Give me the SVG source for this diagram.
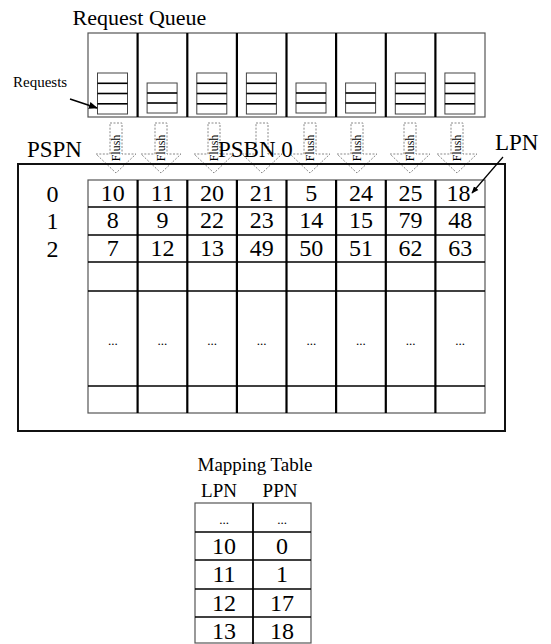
<svg xmlns="http://www.w3.org/2000/svg" width="551" height="644" viewBox="0 0 551 644">
<defs>
<style>
text{font-family:"Liberation Serif","Times New Roman",serif;fill:#000}
.lbl{font-size:23px}
.num{font-size:24px;text-anchor:middle}
.dots{font-size:13px;text-anchor:middle}
.fl{font-size:12px;text-anchor:middle}
.qbox{fill:none;stroke:#555;stroke-width:1.2}
.stk{fill:#fff;stroke:#444;stroke-width:1}
.sl{stroke:#000;stroke-width:1.6}
.div{stroke:#000;stroke-width:2.2}
.arr{fill:#fff;stroke:#888;stroke-width:1;stroke-dasharray:2 1.5}
.grid{fill:none;stroke:#555;stroke-width:1.2}
.hl{stroke:#000;stroke-width:1.6}
</style>
<marker id="ah" viewBox="0 0 10 10" refX="9" refY="5" markerWidth="6" markerHeight="6" orient="auto">
<path d="M0,1 L10,5 L0,9 Z" fill="#000"/>
</marker>
</defs>
<rect width="551" height="644" fill="#fff"/>

<g id="request-queue">
<text x="139.5" y="25" font-size="22" text-anchor="middle">Request Queue</text>
<rect class="qbox" x="88" y="33" width="397" height="84"/>
<line class="div" x1="137.6" y1="33" x2="137.6" y2="117"/>
<line class="div" x1="187.3" y1="33" x2="187.3" y2="117"/>
<line class="div" x1="236.9" y1="33" x2="236.9" y2="117"/>
<line class="div" x1="286.5" y1="33" x2="286.5" y2="117"/>
<line class="div" x1="336.1" y1="33" x2="336.1" y2="117"/>
<line class="div" x1="385.8" y1="33" x2="385.8" y2="117"/>
<line class="div" x1="435.4" y1="33" x2="435.4" y2="117"/>
<g id="stack1"><rect class="stk" x="97.5" y="73" width="30" height="41"/><line class="sl" x1="97.5" y1="83.3" x2="127.5" y2="83.3"/><line class="sl" x1="97.5" y1="93.5" x2="127.5" y2="93.5"/><line class="sl" x1="97.5" y1="103.8" x2="127.5" y2="103.8"/></g>
<g id="stack2"><rect class="stk" x="147.1" y="83" width="30" height="30"/><line class="sl" x1="147.1" y1="93" x2="177.1" y2="93"/><line class="sl" x1="147.1" y1="103" x2="177.1" y2="103"/></g>
<g id="stack3"><rect class="stk" x="196.8" y="73" width="30" height="41"/><line class="sl" x1="196.8" y1="83.3" x2="226.8" y2="83.3"/><line class="sl" x1="196.8" y1="93.5" x2="226.8" y2="93.5"/><line class="sl" x1="196.8" y1="103.8" x2="226.8" y2="103.8"/></g>
<g id="stack4"><rect class="stk" x="246.4" y="73" width="30" height="41"/><line class="sl" x1="246.4" y1="83.3" x2="276.4" y2="83.3"/><line class="sl" x1="246.4" y1="93.5" x2="276.4" y2="93.5"/><line class="sl" x1="246.4" y1="103.8" x2="276.4" y2="103.8"/></g>
<g id="stack5"><rect class="stk" x="296" y="83" width="30" height="30"/><line class="sl" x1="296" y1="93" x2="326" y2="93"/><line class="sl" x1="296" y1="103" x2="326" y2="103"/></g>
<g id="stack6"><rect class="stk" x="345.6" y="83" width="30" height="30"/><line class="sl" x1="345.6" y1="93" x2="375.6" y2="93"/><line class="sl" x1="345.6" y1="103" x2="375.6" y2="103"/></g>
<g id="stack7"><rect class="stk" x="395.3" y="73" width="30" height="41"/><line class="sl" x1="395.3" y1="83.3" x2="425.3" y2="83.3"/><line class="sl" x1="395.3" y1="93.5" x2="425.3" y2="93.5"/><line class="sl" x1="395.3" y1="103.8" x2="425.3" y2="103.8"/></g>
<g id="stack8"><rect class="stk" x="444.9" y="73" width="30" height="41"/><line class="sl" x1="444.9" y1="83.3" x2="474.9" y2="83.3"/><line class="sl" x1="444.9" y1="93.5" x2="474.9" y2="93.5"/><line class="sl" x1="444.9" y1="103.8" x2="474.9" y2="103.8"/></g>
</g>

<g id="requests-label">
<text x="13" y="87" font-size="15">Requests</text>
</g>

<g id="flush-arrows">
<path class="arr" d="M110,123 H122 V154 H136 L116,173 L96,154 H110 Z"/>
<text class="fl" transform="translate(120,148) rotate(-90)">Flush</text>
<path class="arr" d="M155,123 H167 V154 H181 L161,173 L141,154 H155 Z"/>
<text class="fl" transform="translate(165,148) rotate(-90)">Flush</text>
<path class="arr" d="M208,123 H220 V154 H234 L214,173 L194,154 H208 Z"/>
<text class="fl" transform="translate(218,148) rotate(-90)">Flush</text>
<path class="arr" d="M256,123 H268 V154 H282 L262,173 L242,154 H256 Z"/>
<path class="arr" d="M304,123 H316 V154 H330 L310,173 L290,154 H304 Z"/>
<text class="fl" transform="translate(314,148) rotate(-90)">Flush</text>
<path class="arr" d="M351,123 H363 V154 H377 L357,173 L337,154 H351 Z"/>
<text class="fl" transform="translate(361,148) rotate(-90)">Flush</text>
<path class="arr" d="M404,123 H416 V154 H430 L410,173 L390,154 H404 Z"/>
<text class="fl" transform="translate(414,148) rotate(-90)">Flush</text>
<path class="arr" d="M451,123 H463 V154 H477 L457,173 L437,154 H451 Z"/>
<text class="fl" transform="translate(461,148) rotate(-90)">Flush</text>
</g>

<g id="block">
<rect x="18" y="164" width="487" height="267" fill="none" stroke="#111" stroke-width="2"/>
<text class="lbl" x="27" y="157">PSPN</text>
<text class="lbl" x="218" y="157">PSBN 0</text>
<text class="lbl" x="495" y="150">LPN</text>
<text class="num" x="52.5" y="201.5">0</text>
<text class="num" x="52.5" y="229">1</text>
<text class="num" x="52.5" y="256.5">2</text>
<rect class="grid" x="88" y="180" width="397" height="233"/>
<line class="hl" x1="88" y1="207" x2="485" y2="207"/>
<line class="hl" x1="88" y1="235" x2="485" y2="235"/>
<line class="hl" x1="88" y1="262" x2="485" y2="262"/>
<line class="hl" x1="88" y1="291" x2="485" y2="291"/>
<line class="hl" x1="88" y1="386" x2="485" y2="386"/>
<line class="div" x1="137.6" y1="180" x2="137.6" y2="413"/>
<line class="div" x1="187.3" y1="180" x2="187.3" y2="413"/>
<line class="div" x1="236.9" y1="180" x2="236.9" y2="413"/>
<line class="div" x1="286.5" y1="180" x2="286.5" y2="413"/>
<line class="div" x1="336.1" y1="180" x2="336.1" y2="413"/>
<line class="div" x1="385.8" y1="180" x2="385.8" y2="413"/>
<line class="div" x1="435.4" y1="180" x2="435.4" y2="413"/>
<g class="row0">
<text class="num" x="112.8" y="200.5">10</text><text class="num" x="162.4" y="200.5">11</text><text class="num" x="212.1" y="200.5">20</text><text class="num" x="261.7" y="200.5">21</text><text class="num" x="311.3" y="200.5">5</text><text class="num" x="360.9" y="200.5">24</text><text class="num" x="410.6" y="200.5">25</text><text class="num" x="458.5" y="200.5">18</text>
</g>
<g class="row1">
<text class="num" x="112.8" y="228">8</text><text class="num" x="162.4" y="228">9</text><text class="num" x="212.1" y="228">22</text><text class="num" x="261.7" y="228">23</text><text class="num" x="311.3" y="228">14</text><text class="num" x="360.9" y="228">15</text><text class="num" x="410.6" y="228">79</text><text class="num" x="460.2" y="228">48</text>
</g>
<g class="row2">
<text class="num" x="112.8" y="255.5">7</text><text class="num" x="162.4" y="255.5">12</text><text class="num" x="212.1" y="255.5">13</text><text class="num" x="261.7" y="255.5">49</text><text class="num" x="311.3" y="255.5">50</text><text class="num" x="360.9" y="255.5">51</text><text class="num" x="410.6" y="255.5">62</text><text class="num" x="460.2" y="255.5">63</text>
</g>
<g class="rowdots">
<text class="dots" x="112.8" y="345">...</text><text class="dots" x="162.4" y="345">...</text><text class="dots" x="212.1" y="345">...</text><text class="dots" x="261.7" y="345">...</text><text class="dots" x="311.3" y="345">...</text><text class="dots" x="360.9" y="345">...</text><text class="dots" x="410.6" y="345">...</text><text class="dots" x="460.2" y="345">...</text>
</g>
</g>

<g id="connectors">
<line x1="70" y1="99" x2="97" y2="108" stroke="#000" stroke-width="1.5" marker-end="url(#ah)"/>
<line x1="503" y1="157" x2="472" y2="193" stroke="#000" stroke-width="1.2" marker-end="url(#ah)"/>
</g>

<g id="mapping-table">
<text x="255" y="471" font-size="19" text-anchor="middle">Mapping Table</text>
<text x="219" y="497" font-size="19" text-anchor="middle">LPN</text>
<text x="280" y="497" font-size="19" text-anchor="middle">PPN</text>
<rect class="grid" x="195" y="503" width="116" height="140"/>
<line x1="253" y1="503" x2="253" y2="644" stroke="#000" stroke-width="1.8"/>
<line class="hl" x1="195" y1="532" x2="311" y2="532"/>
<line class="hl" x1="195" y1="560" x2="311" y2="560"/>
<line class="hl" x1="195" y1="589" x2="311" y2="589"/>
<line class="hl" x1="195" y1="617" x2="311" y2="617"/>
<text class="dots" x="224" y="524">...</text><text class="dots" x="282" y="524">...</text>
<text class="num" x="224" y="554">10</text><text class="num" x="282" y="554">0</text>
<text class="num" x="224" y="582">11</text><text class="num" x="282" y="582">1</text>
<text class="num" x="224" y="611">12</text><text class="num" x="282" y="611">17</text>
<text class="num" x="224" y="639">13</text><text class="num" x="282" y="639">18</text>
</g>
</svg>
